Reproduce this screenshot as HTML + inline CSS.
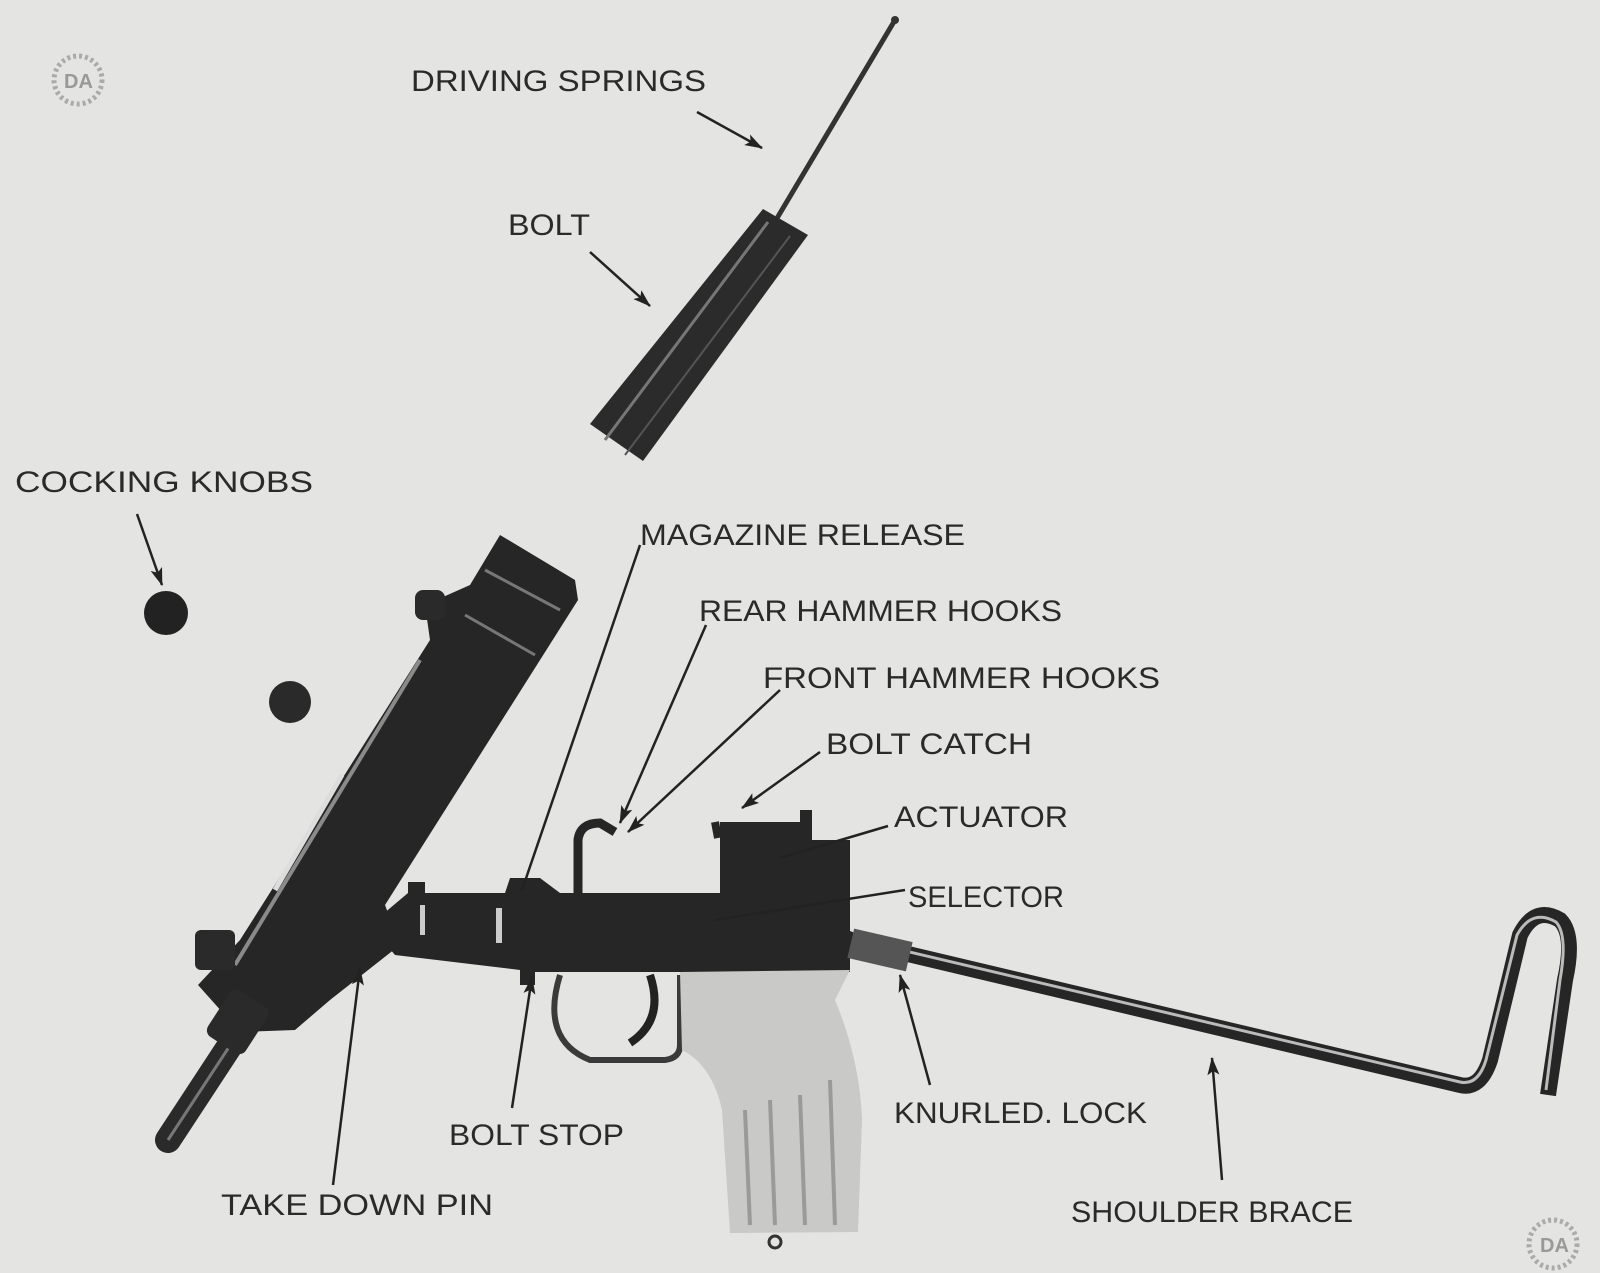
<!DOCTYPE html>
<html><head><meta charset="utf-8"><style>
html,body{margin:0;padding:0;background:#e4e4e2;}
svg{display:block}
text{font-family:"Liberation Sans",sans-serif;font-size:30px;fill:#2a2a2a;}
</style></head><body>
<svg width="1600" height="1273" viewBox="0 0 1600 1273" xmlns="http://www.w3.org/2000/svg">
<defs>
<marker id="a" markerWidth="10" markerHeight="8" refX="9" refY="4" orient="auto" markerUnits="userSpaceOnUse">
<path d="M0,0 L10,4 L0,8 Z" fill="#222"/></marker>
<marker id="b" markerWidth="18" markerHeight="12" refX="17" refY="6" orient="auto" markerUnits="userSpaceOnUse">
<path d="M0,0 L18,6 L0,12 L4,6 Z" fill="#222"/></marker>
</defs>
<rect width="1600" height="1273" fill="#e4e4e2"/>

<!-- logos -->
<g fill="#9a9a9a" font-weight="bold">
<text x="64" y="88" style="font-size:20px;fill:#999;font-weight:bold">DA</text>
<circle cx="78" cy="80" r="24" fill="none" stroke="#aaa" stroke-width="5" stroke-dasharray="3 3"/>
<text x="1540" y="1252" style="font-size:20px;fill:#999;font-weight:bold">DA</text>
<circle cx="1553" cy="1244" r="24" fill="none" stroke="#aaa" stroke-width="5" stroke-dasharray="3 3"/>
</g>

<!-- driving spring rod -->
<line x1="770" y1="230" x2="895" y2="20" stroke="#333" stroke-width="5"/>
<circle cx="895" cy="20" r="4" fill="#333"/>
<!-- bolt -->
<polygon points="763,209 808,235 643,461 590,424" fill="#2b2b2b"/>
<line x1="768" y1="222" x2="605" y2="440" stroke="#777" stroke-width="3"/>
<line x1="790" y1="236" x2="625" y2="455" stroke="#555" stroke-width="2"/>

<!-- cocking knobs -->
<circle cx="166" cy="613" r="22" fill="#222"/>
<circle cx="290" cy="702" r="21" fill="#2a2a2a"/>

<!-- upper receiver -->
<polygon points="500,535 575,580 578,600 385,905 400,945 330,1000 295,1030 240,1032 198,985 240,940 430,640 425,605 470,585" fill="#262626"/>
<line x1="420" y1="660" x2="235" y2="965" stroke="#8a8a8a" stroke-width="4"/>
<line x1="342" y1="775" x2="275" y2="890" stroke="#ddd" stroke-width="5"/>
<line x1="485" y1="570" x2="560" y2="610" stroke="#777" stroke-width="3"/>
<line x1="465" y1="615" x2="535" y2="655" stroke="#777" stroke-width="3"/>
<line x1="250" y1="1015" x2="168" y2="1140" stroke="#2a2a2a" stroke-width="26" stroke-linecap="round"/>
<line x1="250" y1="1015" x2="168" y2="1140" stroke="#777" stroke-width="3"/>
<rect x="210" y="1000" width="55" height="45" rx="8" fill="#2a2a2a" transform="rotate(-57 237 1022)"/>
<rect x="195" y="930" width="40" height="40" rx="6" fill="#2a2a2a"/>
<rect x="415" y="590" width="30" height="30" rx="8" fill="#2a2a2a"/>

<!-- lower receiver -->
<polygon points="370,925 408,893 408,882 425,882 425,893 505,893 510,878 540,878 560,893 720,893 720,822 800,822 800,810 812,810 812,840 850,840 850,972 535,972 535,985 520,985 520,970 395,955" fill="#262626"/>
<path d="M578,893 L578,840 Q580,823 600,823 L615,832" stroke="#262626" stroke-width="9" fill="none"/>
<path d="M715,822 L718,838" stroke="#262626" stroke-width="8"/>
<rect x="496" y="908" width="6" height="35" fill="#ccc"/>
<rect x="420" y="905" width="5" height="30" fill="#ccc"/>

<!-- trigger guard & trigger -->
<path d="M560,975 Q540,1040 590,1060 L665,1060 Q680,1058 680,1045 L680,975" stroke="#3a3a3a" stroke-width="6" fill="none"/>
<path d="M650,975 Q665,1020 630,1043" stroke="#222" stroke-width="8" fill="none"/>
<!-- grip -->
<path d="M680,972 L850,970 L835,1000 Q860,1060 862,1120 L858,1232 L730,1233 L722,1110 Q712,1065 682,1050 Z" fill="#c9c9c7"/>
<g stroke="#9a9a98" stroke-width="4">
<line x1="745" y1="1110" x2="750" y2="1225"/><line x1="770" y1="1100" x2="775" y2="1225"/>
<line x1="800" y1="1095" x2="805" y2="1225"/><line x1="830" y1="1080" x2="835" y2="1225"/></g>
<circle cx="775" cy="1242" r="6" fill="none" stroke="#333" stroke-width="3"/>

<!-- shoulder brace -->
<path d="M830,925 Q840,940 870,945 L1460,1085 Q1480,1090 1490,1060 L1520,935 Q1535,905 1560,920 Q1575,935 1565,980 L1548,1095" stroke="#262626" stroke-width="16" fill="none" stroke-linejoin="round"/>
<path d="M880,945 L1460,1082 Q1478,1086 1486,1060 L1517,935 Q1532,908 1556,922 Q1568,935 1560,980 L1546,1090" stroke="#bbb" stroke-width="3" fill="none"/>
<rect x="850" y="935" width="60" height="30" fill="#555" transform="rotate(13 880 950)"/>

<!-- leaders -->
<g stroke="#222" stroke-width="2.5" fill="none">
<line x1="697" y1="112" x2="762" y2="148" marker-end="url(#b)"/>
<line x1="590" y1="252" x2="650" y2="306" marker-end="url(#b)"/>
<line x1="137" y1="514" x2="162" y2="585" marker-end="url(#b)"/>
<line x1="640" y1="545" x2="522" y2="890"/>
<line x1="706" y1="625" x2="620" y2="823" marker-end="url(#b)"/>
<line x1="780" y1="690" x2="628" y2="832" marker-end="url(#b)"/>
<line x1="820" y1="752" x2="742" y2="808" marker-end="url(#b)"/>
<line x1="888" y1="826" x2="780" y2="858"/>
<line x1="905" y1="890" x2="715" y2="920"/>
<line x1="930" y1="1085" x2="900" y2="975" marker-end="url(#b)"/>
<line x1="1222" y1="1180" x2="1212" y2="1058" marker-end="url(#b)"/>
<line x1="512" y1="1108" x2="532" y2="977" marker-end="url(#b)"/>
<line x1="333" y1="1185" x2="360" y2="968" marker-end="url(#b)"/>
</g>

<!-- labels -->
<text x="411" y="91" textLength="295" lengthAdjust="spacingAndGlyphs">DRIVING SPRINGS</text>
<text x="508" y="235" textLength="82" lengthAdjust="spacingAndGlyphs">BOLT</text>
<text x="15" y="492" textLength="298" lengthAdjust="spacingAndGlyphs">COCKING KNOBS</text>
<text x="640" y="545" textLength="325" lengthAdjust="spacingAndGlyphs">MAGAZINE RELEASE</text>
<text x="699" y="621" textLength="363" lengthAdjust="spacingAndGlyphs">REAR HAMMER HOOKS</text>
<text x="763" y="688" textLength="397" lengthAdjust="spacingAndGlyphs">FRONT HAMMER HOOKS</text>
<text x="826" y="754" textLength="206" lengthAdjust="spacingAndGlyphs">BOLT CATCH</text>
<text x="894" y="827" textLength="174" lengthAdjust="spacingAndGlyphs">ACTUATOR</text>
<text x="908" y="907" textLength="156" lengthAdjust="spacingAndGlyphs">SELECTOR</text>
<text x="894" y="1123" textLength="253" lengthAdjust="spacingAndGlyphs">KNURLED. LOCK</text>
<text x="449" y="1145" textLength="175" lengthAdjust="spacingAndGlyphs">BOLT STOP</text>
<text x="221" y="1215" textLength="272" lengthAdjust="spacingAndGlyphs">TAKE DOWN PIN</text>
<text x="1071" y="1222" textLength="282" lengthAdjust="spacingAndGlyphs">SHOULDER BRACE</text>
</svg>
</body></html>
